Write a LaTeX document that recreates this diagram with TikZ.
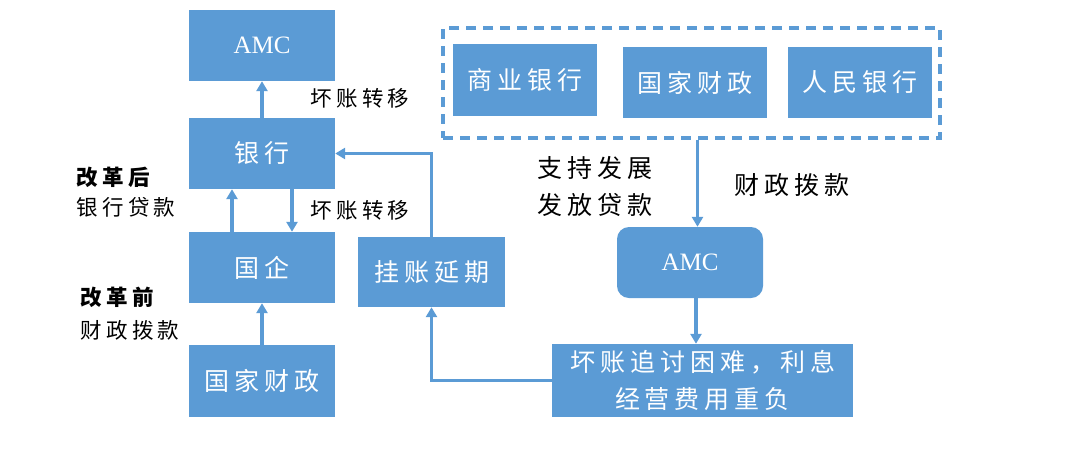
\documentclass[tikz,border=0pt]{standalone}
\usepackage{fontspec}
\setmainfont{Noto Sans CJK SC}
\newfontfamily\cjkwide[LetterSpace=20]{Noto Sans CJK SC}
\newfontfamily\latinserif{Liberation Serif}
\usetikzlibrary{arrows.meta,positioning}
\definecolor{reformBlue}{HTML}{5B9BD5}
\tikzset{
  >={Triangle[length=10pt,width=11pt]},
  blk/.style={fill=reformBlue, text=white, minimum width=146pt, minimum height=71pt,
              inner sep=0pt, align=center, font=\cjkwide\fontsize{25}{30}\selectfont},
  amcblk/.style={blk, font=\latinserif\fontsize{25}{30}\selectfont},
  lbl/.style={font=\cjkwide\fontsize{21.5}{26}\selectfont, text=black, inner sep=0pt},
  biglbl/.style={font=\cjkwide\fontsize{25}{37}\selectfont, text=black, inner sep=0pt, align=center},
  boldlbl/.style={lbl, font=\cjkwide\bfseries\fontsize{21.5}{26}\selectfont},
  flow/.style={->, draw=reformBlue, line width=3.5pt},
  pool/.style={draw=reformBlue, line width=3.5pt, dash pattern=on 10pt off 7pt,
              minimum width=497pt, minimum height=110pt, inner sep=0pt},
}

\begin{document}
\begin{tikzpicture}[x=1pt,y=-1pt]
    \useasboundingbox (0,0) rectangle (1084,456);
    % left column: before / after the reform
    \node[amcblk] (amcL) at (262,45.5) {AMC};
    \node[blk] (bank) at (262,153.5) {银行};
    \node[blk] (soe) at (262,267.5) {国企};
    \node[blk,minimum height=72pt] (fiscalL) at (262,381) {国家财政};
    \node[blk,minimum width=147pt,minimum height=70pt] (defer) at (431.5,272) {挂账延期};
    \draw[flow] (bank) -- (amcL);
    \draw[flow] ([xshift=-30pt]soe.north) -- ([xshift=-30pt]bank.south);
    \draw[flow] ([xshift=30pt]bank.south) -- ([xshift=30pt]soe.north);
    \draw[flow] (fiscalL) -- (soe);
    \draw[flow] (defer.north) |- (bank.east);
    \node[lbl] (moveA) at (360,98) {坏账转移};
    \node[lbl] (moveB) at (360,210) {坏账转移};
    \node[boldlbl] (after) at (113,177) {改革后};
    \node[lbl] (loan) at (126,207) {银行贷款};
    \node[boldlbl] (before) at (117,297) {改革前};
    \node[lbl] (grantL) at (130,330) {财政拨款};
    % right part: AMC funding
    \node[pool] (funders) at (691.5,83) {};
    \node[blk,minimum width=144pt,minimum height=72pt] (commBank) at (525,80) {商业银行};
    \node[blk,minimum width=144pt] (fiscalR) at (695,82.5) {国家财政};
    \node[blk,minimum width=144pt] (pboc) at (860,82.5) {人民银行};
    \node[amcblk,rounded corners=12pt] (amcR) at (690,262.5) {AMC};
    \node[blk,minimum width=301pt,minimum height=73pt,font=\cjkwide\fontsize{25}{37}\selectfont]
      (debt) at (702.5,380.5) {坏账追讨困难，利息\\经营费用重负};
    \draw[flow] ([xshift=6pt]funders.south) -- ([xshift=6pt]funders.south |- amcR.north);
    \draw[flow] ([xshift=6pt]amcR.south) -- ([xshift=6pt]amcR.south |- debt.north);
    \draw[flow] (debt.west) -| (defer.south);
    \node[biglbl] (support) at (595,186) {支持发展\\发放贷款};
    \node[biglbl] (grantR) at (792,185) {财政拨款};
\end{tikzpicture}
\end{document}
